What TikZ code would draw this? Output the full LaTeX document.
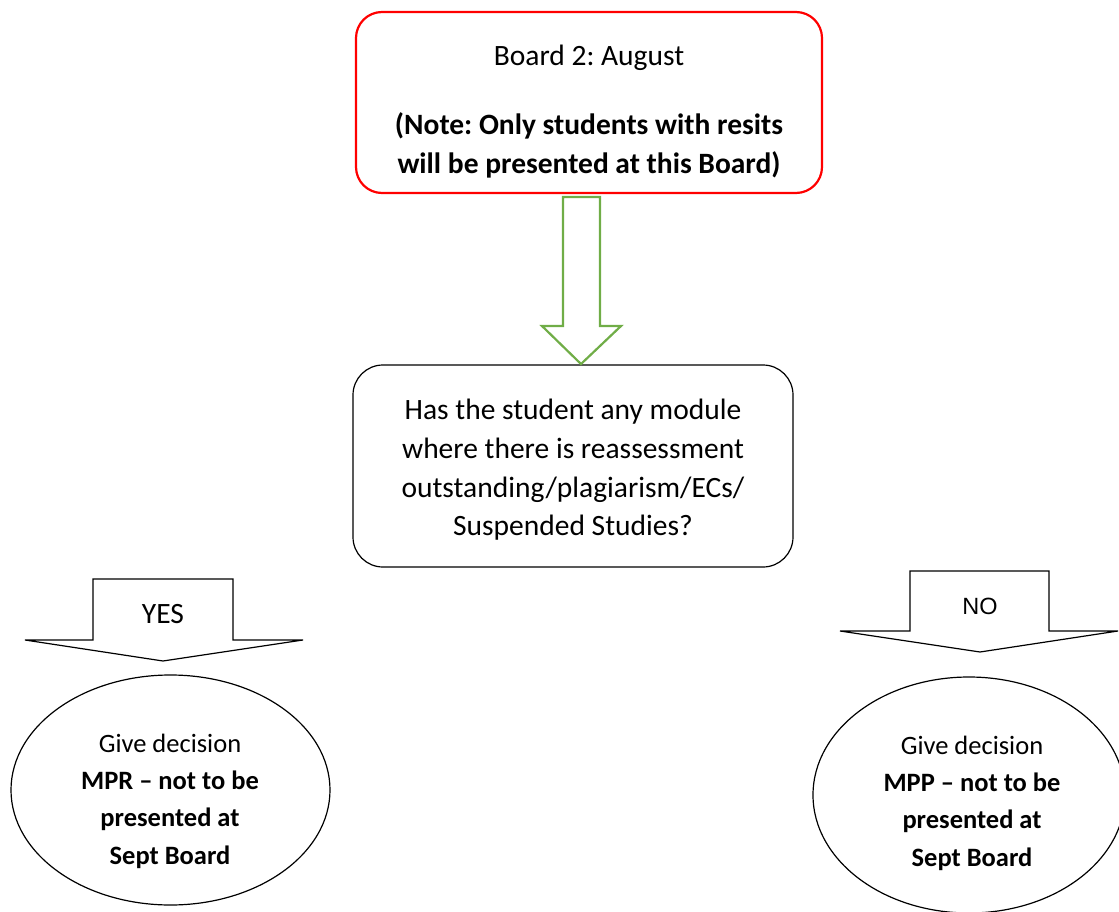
\documentclass[tikz,border=0pt]{standalone}
\usepackage{fontspec}
\setmainfont{Carlito}
\newfontfamily\arialfont{Liberation Sans}
\frenchspacing
\usetikzlibrary{shapes.geometric}

\tikzset{
  boardbox/.style={draw=red, line width=2.2pt, rounded corners=26pt, align=center,
    minimum width=466pt, minimum height=181pt, inner sep=0pt},
  querybox/.style={draw, line width=1.2pt, rounded corners=30pt, align=center,
    minimum width=440pt, minimum height=202pt, inner sep=0pt},
  outcome/.style={draw, ellipse, line width=1.2pt, inner sep=0pt},
  outcometext/.style={align=center, font=\fontsize{26.5}{37.3}\selectfont},
  blockarrow/.style={draw, line width=1.2pt, fill=white},
  every node/.style={font=\fontsize{29.5}{38.7}\selectfont}
}

\begin{document}
\begin{tikzpicture}[x=1pt, y=-1pt]
\useasboundingbox (0,0) rectangle (1119,912);

% boards and question
\node[boardbox] (board) at (589,102.5) {};
\node[align=center] (boardtext) at (589,111.5) {Board 2: August\\[31pt]
  \textbf{(Note: Only students with resits}\\
  \textbf{will be presented at this Board)}};
\node[querybox] (query) at (573,466) {};
\node[align=center] (querytext) at (573,470) {Has the student any module\\
  where there is reassessment\\
  outstanding/plagiarism/ECs/\\
  Suspended Studies?};

% green arrow between the two boxes
\draw[line width=2.2pt, draw={rgb,255:red,112;green,173;blue,71}, line join=miter]
  (563,197) -- (563,326) -- (542,326) -- (581,364) -- (621,326) -- (600,326)
  -- (600,197) -- cycle;

% yes and no arrows
\draw[blockarrow] (93,579) -- (233,579) -- (233,640) -- (303,640) -- (163,661)
  -- (25,640) -- (93,640) -- cycle;
\node (yes) at (163,614) {YES};
\draw[blockarrow] (910,571) -- (1049,571) -- (1049,631) -- (1118,631) -- (980,652)
  -- (840,631) -- (910,631) -- cycle;
\node[font=\arialfont\fontsize{23.5}{28}\selectfont] (no) at (980,606) {NO};

% decisions
\node[outcome, minimum width=319pt, minimum height=230pt] (mpr) at (170.5,790) {};
\node[outcometext] (mprtext) at (170,801)
  {Give decision\\ \textbf{MPR -- not to be}\\ \textbf{presented at}\\ \textbf{Sept Board}};
\node[outcome, minimum width=312pt, minimum height=236pt] (mpp) at (969,795) {};
\node[outcometext] (mpptext) at (972,803)
  {Give decision\\ \textbf{MPP -- not to be}\\ \textbf{presented at}\\ \textbf{Sept Board}};
\end{tikzpicture}
\end{document}
